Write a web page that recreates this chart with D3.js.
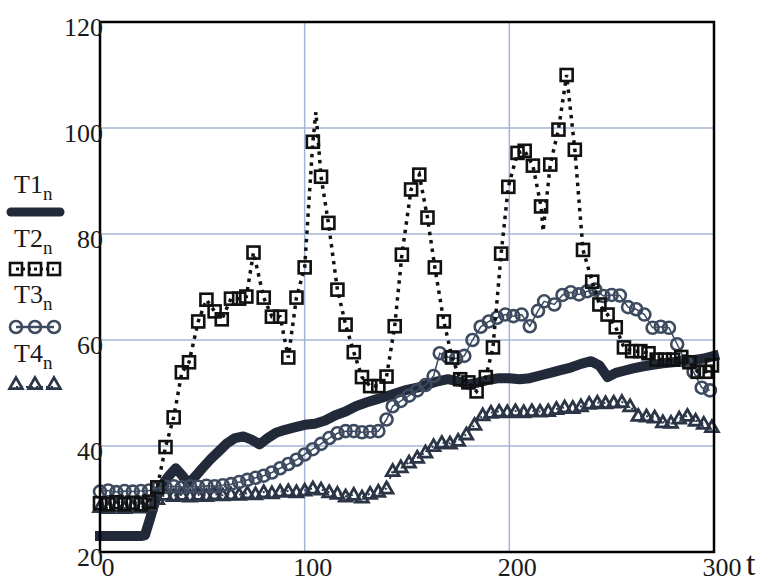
<!DOCTYPE html>
<meta charset="utf-8" />
<style>
  body { margin: 0; background: #fff; }
</style>
<body>
<div id="chart"></div>
<script src="https://cdn.jsdelivr.net/npm/d3@7"></script>
<script>
  // T1 - thick line
  const t1Time = [0, 5, 10, 15, 20, 22, 25, 28, 31, 34, 37, 40, 43, 46, 50, 54, 58, 62, 66, 70, 74, 78, 82, 86, 90, 95, 100, 105, 110, 115, 120, 125, 130, 135, 140, 145, 150, 155, 160, 165, 170, 175, 180, 185, 190, 195, 200, 205, 210, 215, 220, 225, 230, 235, 240, 244, 248, 252, 256, 260, 265, 270, 275, 280, 285, 290, 295, 300];
  const t1Value = [23, 23, 23, 23, 23, 23.2, 27, 31, 33, 34.5, 35.8, 34.5, 33, 34, 35.8, 37.5, 39, 40.5, 41.5, 41.8, 41.2, 40.3, 41.5, 42.5, 43, 43.5, 44, 44.2, 44.8, 45.8, 46.5, 47.5, 48.2, 48.8, 49.4, 50, 50.6, 51, 51.6, 52.2, 52.6, 52.2, 51.6, 52, 52.5, 52.8, 52.8, 52.6, 52.8, 53.3, 53.8, 54.3, 54.8, 55.5, 56, 55.2, 53, 53.8, 54.2, 54.6, 55, 55.3, 55.6, 55.8, 56, 56.2, 56.5, 57];

  // T2 - squares on a dotted line (the two dips/spikes without squares are line-only points)
  const t2Time = [0, 4, 8, 12, 16, 20, 24, 28, 32, 36, 40, 43.5, 48, 52, 56, 59.5, 64, 68, 71.5, 75, 80, 84, 88, 92, 96, 100, 104, 105.5, 108, 111.6, 116, 120, 124, 128, 132, 136, 140, 144, 147.5, 152, 156, 160, 163.6, 168, 172, 176, 180, 184, 188.5, 192, 196, 199.5, 204, 207.5, 211.5, 215.5, 216.5, 220, 224, 228, 232, 236, 240.5, 244, 248, 252, 256, 260, 264, 268, 272, 276, 280, 284, 288, 292, 296, 299];
  const t2Value = [29.2, 29, 29.4, 29, 29.3, 29, 29.5, 32.2, 39.8, 45.4, 53.9, 55.8, 63.5, 67.6, 65.4, 63.9, 67.8, 67.8, 68.2, 76.5, 68, 64.4, 64.4, 56.7, 68, 73.7, 97.4, 103, 90.8, 82.1, 69.5, 62.9, 57.7, 53, 51.3, 51.3, 53.1, 62.6, 76.1, 88.4, 91.2, 83.1, 73.7, 63.5, 56.7, 52.6, 52, 50.3, 53, 58.6, 76.3, 88.9, 95.3, 95.7, 92.9, 85.2, 80.5, 93.1, 99.7, 110, 95.9, 77, 71, 66.7, 64.8, 62.4, 58.6, 57.9, 57.9, 57.5, 56.3, 56.3, 56.3, 56.8, 55.8, 54, 54, 55.2];
  const t2LineOnly = [105.5, 216.5];

  // T3 - circles
  const t3Time = [0, 4, 8, 12, 16, 20, 24, 28, 32, 36, 40, 44, 48, 52, 56, 60, 64, 68, 72, 76, 80, 84, 88, 92, 96, 100, 104, 108, 112, 116, 120, 124, 128, 132, 136, 140, 143, 147, 151, 155, 159, 163, 166, 170, 174, 178, 182, 186, 190, 194, 198, 202, 206, 210, 214, 217, 222, 226, 230, 234, 238, 242, 246, 250, 254, 258, 262, 266, 270, 274, 278, 282, 286, 290, 294, 298];
  const t3Value = [31.4, 31.6, 31.3, 31.5, 31.4, 31.5, 31.6, 32, 32.3, 32.4, 32.2, 32.4, 32.3, 32.5, 32.4, 32.6, 32.8, 33.2, 33.6, 34, 34.4, 35, 35.8, 36.6, 37.4, 38.4, 39.4, 40.4, 41.5, 42.4, 42.8, 42.8, 42.6, 42.7, 42.8, 45, 47.5, 48.5, 49.5, 50.5, 51.5, 53.2, 57.5, 56.8, 56.5, 57, 60, 62.5, 63.5, 64.2, 64.8, 64.5, 64.8, 62.6, 65.5, 67.3, 66.7, 68.5, 69, 68.6, 69.2, 69.5, 68.3, 68.5, 68.4, 66.2, 65.8, 64.8, 62.3, 62.5, 62.3, 59.2, 56, 54, 51, 50.5];

  // T4 - triangles
  const t4Time = [0, 4, 8, 12, 16, 20, 24, 28, 32, 36, 40, 44, 48, 52, 56, 60, 64, 68, 72, 76, 80, 84, 88, 92, 96, 100, 104, 108, 112, 116, 120, 124, 128, 132, 136, 140, 143, 147, 151, 155, 159, 163, 167, 171, 175, 179, 183, 187, 191, 195, 199, 203, 207, 211, 215, 219, 223, 227, 231, 235, 239, 243, 247, 251, 255, 259, 263, 267, 271, 275, 279, 283, 287, 291, 295, 299];
  const t4Value = [28.5, 28.3, 28.6, 28.3, 28.5, 28.4, 28.8, 30, 30.8, 30.6, 30.8, 30.5, 30.8, 30.6, 30.9, 30.7, 30.9, 30.8, 31.1, 30.9, 31.3, 31.1, 31.4, 31.5, 31.3, 31.6, 32, 31.8, 31.3, 31, 30.5, 30.8, 30.3, 31, 31.4, 32, 35.3, 36, 36.9, 37.8, 38.8, 40, 40.6, 40.5, 41, 42.2, 44, 45.8, 46.3, 46.5, 46.4, 46.6, 46.4, 46.6, 46.5, 46.6, 47, 47.3, 47.2, 47.5, 48, 48.2, 48.1, 48.2, 48.3, 47.5, 45.7, 45.6, 45.4, 44.5, 44.4, 45.2, 45.7, 44.8, 44.2, 43.6];

  const xTicks = [0, 100, 200, 300];
  const yTicks = [20, 40, 60, 80, 100, 120];
  const legendNames = ["T1", "T2", "T3", "T4"];

  const FONT = "Liberation Serif";
  const width = 766, height = 581;
  const x = d3.scaleLinear().domain([0, 300]).range([100, 714]);
  const y = d3.scaleLinear().domain([20, 120]).range([552, 22]);

  const svg = d3.select("#chart").append("svg")
    .attr("width", width).attr("height", height);

  const zip = (ts, vs) => ts.map((t, i) => ({ t: t, v: vs[i] }));
  const t1 = zip(t1Time, t1Value);
  const t2 = zip(t2Time, t2Value);
  const t3 = zip(t3Time, t3Value);
  const t4 = zip(t4Time, t4Value);

  // grid
  svg.append("g").selectAll("line").data(yTicks.slice(1, -1)).join("line")
    .attr("x1", x(0)).attr("x2", x(300)).attr("y1", d => y(d)).attr("y2", d => y(d))
    .attr("stroke", "#a3b5d3").attr("stroke-width", 1.5);
  svg.append("g").selectAll("line").data(xTicks.slice(1, -1)).join("line")
    .attr("y1", y(20)).attr("y2", y(120)).attr("x1", d => x(d)).attr("x2", d => x(d))
    .attr("stroke", "#a3b5d3").attr("stroke-width", 1.5);

  const line = d3.line().x(d => x(d.t)).y(d => y(d.v));
  const plot = svg.append("g");

  // T1
  plot.append("path").datum(t1).attr("d", line)
    .attr("fill", "none").attr("stroke", "#222a3a").attr("stroke-width", 10)
    .attr("stroke-linejoin", "round").attr("stroke-linecap", "square");

  // T4
  plot.append("path").datum(t4).attr("d", line)
    .attr("fill", "none").attr("stroke", "#2b3546").attr("stroke-width", 2)
    .attr("stroke-dasharray", "2,4");
  const tri = d3.symbol().type(d3.symbolTriangle).size(70);
  plot.append("g").selectAll("path").data(t4).join("path")
    .attr("d", tri)
    .attr("transform", d => "translate(" + x(d.t) + "," + (y(d.v) + 1) + ")")
    .attr("fill", "none").attr("stroke", "#2b3546").attr("stroke-width", 2.8);

  // T3
  plot.append("path").datum(t3).attr("d", line)
    .attr("fill", "none").attr("stroke", "#3d4a5f").attr("stroke-width", 1.5);
  plot.append("g").selectAll("circle").data(t3).join("circle")
    .attr("cx", d => x(d.t)).attr("cy", d => y(d.v)).attr("r", 6)
    .attr("fill", "none").attr("stroke", "#3d4a5f").attr("stroke-width", 2.6);

  // T2
  plot.append("path").datum(t2).attr("d", line)
    .attr("fill", "none").attr("stroke", "#111").attr("stroke-width", 3.5)
    .attr("stroke-dasharray", "3.5,5");
  plot.append("g").selectAll("rect").data(t2.filter(d => !t2LineOnly.includes(d.t))).join("rect")
    .attr("x", d => x(d.t) - 6).attr("y", d => y(d.v) - 6)
    .attr("width", 12).attr("height", 12)
    .attr("fill", "none").attr("stroke", "#111").attr("stroke-width", 2.6);

  // frame
  svg.append("rect").attr("x", x(0)).attr("y", y(120))
    .attr("width", x(300) - x(0)).attr("height", y(20) - y(120))
    .attr("fill", "none").attr("stroke", "#000").attr("stroke-width", 2.5);

  // axis labels
  svg.append("g").selectAll("text").data(yTicks).join("text")
    .attr("x", 103).attr("y", d => y(d) + 14)
    .attr("text-anchor", "end").attr("font-family", FONT).attr("font-size", 26).attr("fill", "#1a1a1a")
    .text(d => d);
  svg.append("g").selectAll("text").data(xTicks).join("text")
    .attr("x", d => x(d) + 8).attr("y", 576)
    .attr("text-anchor", "middle").attr("font-family", FONT).attr("font-size", 26).attr("fill", "#1a1a1a")
    .text(d => d);
  svg.append("text").attr("x", 746).attr("y", 575)
    .attr("font-family", FONT).attr("font-size", 34).attr("fill", "#1a1a1a").text("t");

  // legend
  const legendY = [193, 247, 303, 362];
  const legend = svg.append("g");
  legendNames.forEach((name, i) => {
    const txt = legend.append("text").attr("x", 14).attr("y", legendY[i])
      .attr("font-family", FONT).attr("font-size", 26).attr("fill", "#1a1a1a");
    txt.append("tspan").text(name);
    txt.append("tspan").attr("font-size", 19).attr("dy", 7).text("n");
  });
  const symX = [16, 35, 54];
  legend.append("line").attr("x1", 11).attr("x2", 60).attr("y1", 212).attr("y2", 212)
    .attr("stroke", "#222a3a").attr("stroke-width", 9).attr("stroke-linecap", "round");
  legend.append("line").attr("x1", 16).attr("x2", 54).attr("y1", 269).attr("y2", 269)
    .attr("stroke", "#111").attr("stroke-width", 3).attr("stroke-dasharray", "3,3");
  legend.selectAll(".lsq").data(symX).join("rect").attr("class", "lsq")
    .attr("x", d => d - 6).attr("y", 263).attr("width", 12).attr("height", 12)
    .attr("fill", "none").attr("stroke", "#111").attr("stroke-width", 2.6);
  legend.append("line").attr("x1", 16).attr("x2", 54).attr("y1", 327).attr("y2", 327)
    .attr("stroke", "#3d4a5f").attr("stroke-width", 2.5);
  legend.selectAll(".lci").data(symX).join("circle").attr("class", "lci")
    .attr("cx", d => d).attr("cy", 327).attr("r", 6)
    .attr("fill", "none").attr("stroke", "#3d4a5f").attr("stroke-width", 2.6);
  legend.append("line").attr("x1", 16).attr("x2", 54).attr("y1", 387).attr("y2", 387)
    .attr("stroke", "#2b3546").attr("stroke-width", 2).attr("stroke-dasharray", "2,3");
  legend.selectAll(".ltr").data(symX).join("path").attr("class", "ltr")
    .attr("d", tri).attr("transform", d => "translate(" + d + ",385)")
    .attr("fill", "none").attr("stroke", "#2b3546").attr("stroke-width", 2.8);
</script>
</body>
